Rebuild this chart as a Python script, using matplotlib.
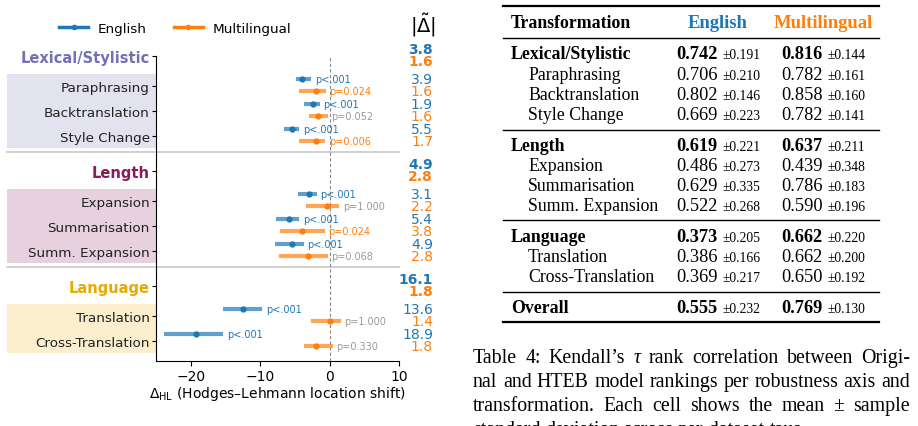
import numpy as np
import matplotlib.pyplot as plt
import matplotlib.transforms as mtransforms
from matplotlib.lines import Line2D
from matplotlib.patches import Rectangle

# --- chart data (Hodges-Lehmann shifts) ---
groups = ["Lexical/Stylistic", "Length", "Language"]
group_colors = ["#7570b3", "#8c1a5b", "#e6ab02"]
group_items = [["Paraphrasing", "Backtranslation", "Style Change"],
               ["Expansion", "Summarisation", "Summ. Expansion"],
               ["Translation", "Cross-Translation"]]
group_en_abs = [3.8, 4.9, 16.1]
group_ml_abs = [1.6, 2.8, 1.8]

en_est = [-3.9, -2.4, -5.4, -3.0, -5.9, -5.4, -12.4, -19.3]
en_lo = [-4.9, -3.7, -6.6, -4.6, -7.7, -7.8, -15.3, -23.9]
en_hi = [-2.65, -1.45, -4.35, -1.85, -4.35, -3.7, -9.7, -15.3]
ml_est = [-1.9, -1.6, -1.9, -0.4, -3.95, -3.1, 0.0, -2.0]
ml_lo = [-4.45, -2.95, -4.45, -3.4, -7.1, -7.3, -2.7, -3.65]
ml_hi = [-0.5, -0.25, -0.6, 1.4, -0.65, -0.25, 1.65, 0.45]
en_p = ["p<.001"] * 8
ml_p = ["p=0.024", "p=0.052", "p=0.006", "p=1.000", "p=0.024", "p=0.068", "p=1.000", "p=0.330"]
en_abs = [3.9, 1.9, 5.5, 3.1, 5.4, 4.9, 13.6, 18.9]
ml_abs = [1.6, 1.6, 1.7, 2.2, 3.8, 2.8, 1.4, 1.8]

# --- table data (Kendall's tau) ---
tbl_labels = ["Lexical/Stylistic", "Paraphrasing", "Backtranslation", "Style Change",
              "Length", "Expansion", "Summarisation", "Summ. Expansion",
              "Language", "Translation", "Cross-Translation", "Overall"]
tbl_bold = [True, False, False, False, True, False, False, False, True, False, False, True]
tbl_en_mean = [0.742, 0.706, 0.802, 0.669, 0.619, 0.486, 0.629, 0.522, 0.373, 0.386, 0.369, 0.555]
tbl_en_sd = [0.191, 0.210, 0.146, 0.223, 0.221, 0.273, 0.335, 0.268, 0.205, 0.166, 0.217, 0.232]
tbl_ml_mean = [0.816, 0.782, 0.858, 0.782, 0.637, 0.439, 0.786, 0.590, 0.662, 0.662, 0.650, 0.769]
tbl_ml_sd = [0.144, 0.161, 0.160, 0.141, 0.211, 0.348, 0.183, 0.196, 0.220, 0.200, 0.192, 0.130]

caption = ["Table 4: Kendall’s τ rank correlation between Origi-",
           "nal and HTEB model rankings per robustness axis and",
           "transformation. Each cell shows the mean ± sample",
           "standard deviation across per-dataset taus."]

BLUE = "#1f77b4"
ORANGE = "#ff7f0e"
GREY = "#999999"
FS = 9.7

fig = plt.figure(figsize=(9.18, 4.27), dpi=100)
ax = fig.add_axes([156 / 918, 1 - 362 / 427, 243 / 918, 305 / 427])

# row layout
ticks, labels, colors, bold = [], [], [], []
item_y, head_y, seps = [], [], []
y = 0.0
for g, (name, items) in enumerate(zip(groups, group_items)):
    if g > 0:
        y += 1.4
        seps.append(y - 0.75)
    head_y.append(y)
    ticks.append(y); labels.append(name); colors.append(group_colors[g]); bold.append(True)
    band0 = y + 1.2
    for k, it in enumerate(items):
        y = y + 1.2 if k == 0 else y + 1.0
        item_y.append(y)
        ticks.append(y); labels.append(it); colors.append("#222222"); bold.append(False)
    trans_band = mtransforms.blended_transform_factory(ax.transAxes, ax.transData)
    ax.add_patch(Rectangle((-0.613, band0 - 0.47), 0.613, (y - band0) + 0.94,
                           transform=trans_band, facecolor=group_colors[g], alpha=0.2,
                           edgecolor="none", clip_on=False, zorder=0))

blend = mtransforms.blended_transform_factory(ax.transAxes, ax.transData)
for s in seps:
    ax.plot([-0.613, 1.0], [s, s], transform=blend, color="#c8c8c8", lw=1.2,
            clip_on=False, zorder=1)

ax.axvline(0, color="#888888", lw=0.8, ls=(0, (3, 2)), zorder=1)

off_en, off_ml = -0.28, 0.2
for i, yy in enumerate(item_y):
    ye, ym = yy + off_en, yy + off_ml
    ax.hlines(ye, en_lo[i], en_hi[i], color=BLUE, lw=3, alpha=0.7, zorder=3)
    ax.plot(en_est[i], ye, "o", color=BLUE, ms=3.5, zorder=4)
    ax.hlines(ym, ml_lo[i], ml_hi[i], color=ORANGE, lw=3, alpha=0.7, zorder=3)
    ax.plot(ml_est[i], ym, "o", color=ORANGE, ms=3.5, zorder=4)
    ax.text(en_hi[i] + 0.5, ye, en_p[i], fontsize=7, color=BLUE, va="center", ha="left")
    pv = float(ml_p[i].split("=")[-1].split("<")[-1])
    ax.text(ml_hi[i] + 0.5, ym, ml_p[i], fontsize=7,
            color=ORANGE if pv < 0.05 else GREY, va="center", ha="left")
    ax.text(1.14, ye, f"{en_abs[i]:.1f}", transform=blend, ha="right", va="center",
            fontsize=10, color=BLUE, clip_on=False)
    ax.text(1.14, ym, f"{ml_abs[i]:.1f}", transform=blend, ha="right", va="center",
            fontsize=10, color=ORANGE, clip_on=False)

for g, yy in enumerate(head_y):
    ax.text(1.14, yy + off_en, f"{group_en_abs[g]:.1f}", transform=blend, ha="right",
            va="center", fontsize=10, color=BLUE, fontweight="bold", clip_on=False)
    ax.text(1.14, yy + off_ml, f"{group_ml_abs[g]:.1f}", transform=blend, ha="right",
            va="center", fontsize=10, color=ORANGE, fontweight="bold", clip_on=False)
ax.text(1.098, -1.28, r"$|\tilde{\Delta}|$", transform=blend, ha="center", va="center",
        fontsize=14, clip_on=False)

ax.set_ylim(12.2, 0)
ax.set_xlim(-25, 10)
ax.set_xticks([-20, -10, 0, 10])
ax.set_yticks(ticks)
ax.set_yticklabels(labels, fontsize=FS)
for t, c, b in zip(ax.get_yticklabels(), colors, bold):
    t.set_color(c)
    if b:
        t.set_fontweight("bold")
        t.set_fontsize(10.5)
ax.tick_params(axis="y", length=3, pad=1.5)
ax.tick_params(axis="x", labelsize=FS + 0.3, length=3.5, pad=2)
ax.spines["top"].set_visible(False)
ax.spines["right"].set_visible(False)
ax.set_xlabel(r"$\Delta_{\mathrm{HL}}$ (Hodges–Lehmann location shift)", fontsize=FS + 0.3,
              labelpad=1)

handles = [Line2D([], [], color=BLUE, lw=2.5, marker="o", ms=3),
           Line2D([], [], color=ORANGE, lw=2.5, marker="o", ms=3)]
fig.legend(handles, ["English", "Multilingual"], loc="center",
           bbox_to_anchor=(175 / 918, 1 - 29 / 427), ncol=2, frameon=False,
           fontsize=FS, handlelength=2.2, handletextpad=0.7, columnspacing=2.0)

# --- table overlay in pixel coordinates ---
ov = fig.add_axes([0, 0, 1, 1], zorder=-1)
ov.set_xlim(0, 918)
ov.set_ylim(427, 0)
ov.axis("off")
SERIF = "Liberation Serif"
TFS = 12.8
SFS = 9.8

x0, x1 = 503, 879
for yy, lw in [(7, 1.6), (39, 1.0), (131, 1.0), (221, 1.0), (293, 1.0), (323, 1.6)]:
    ov.plot([x0, x1], [yy, yy], color="black", lw=lw)

ov.text(511, 23, "Transformation", family=SERIF, fontsize=TFS, fontweight="bold",
        va="center", ha="left")
ov.text(717.5, 23, "English", family=SERIF, fontsize=TFS + 0.6, fontweight="bold",
        va="center", ha="center", color=BLUE)
ov.text(823, 23, "Multilingual", family=SERIF, fontsize=TFS + 0.6, fontweight="bold",
        va="center", ha="center", color=ORANGE)

row_y = [54, 75, 95, 115, 146, 166, 186, 206, 237, 257, 277, 308]
for i, lab in enumerate(tbl_labels):
    yy = row_y[i] + 5
    w = "bold" if tbl_bold[i] else "normal"
    ov.text(511 if tbl_bold[i] else 528, yy, lab, family=SERIF, fontsize=TFS,
            fontweight=w, va="baseline", ha="left")
    ov.text(676, yy, f"{tbl_en_mean[i]:.3f}", family=SERIF, fontsize=TFS + 0.4, fontweight=w,
            va="baseline", ha="left")
    ov.text(722, yy, f"±{tbl_en_sd[i]:.3f}", family=SERIF, fontsize=SFS,
            va="baseline", ha="left")
    ov.text(781, yy, f"{tbl_ml_mean[i]:.3f}", family=SERIF, fontsize=TFS + 0.4, fontweight=w,
            va="baseline", ha="left")
    ov.text(827, yy, f"±{tbl_ml_sd[i]:.3f}", family=SERIF, fontsize=SFS,
            va="baseline", ha="left")

# justified caption
renderer = fig.canvas.get_renderer()
CFS = 14.3
cx0, cx1 = 473, 910
for li, line in enumerate(caption):
    yy = 356 + 24 * li + 7
    words = line.split(" ")
    texts = []
    for wd in words:
        st = "italic" if wd == "τ" else "normal"
        texts.append(ov.text(0, yy, wd, family=SERIF, fontsize=CFS, style=st,
                             va="baseline", ha="left"))
    widths = [t.get_window_extent(renderer).width for t in texts]
    if li < len(caption) - 1:
        gap = (cx1 - cx0 - sum(widths)) / (len(words) - 1)
    else:
        gap = 4.5
    x = cx0
    for t, wdt in zip(texts, widths):
        t.set_x(x)
        x += wdt + gap

fig.savefig("out.png", dpi=100)
